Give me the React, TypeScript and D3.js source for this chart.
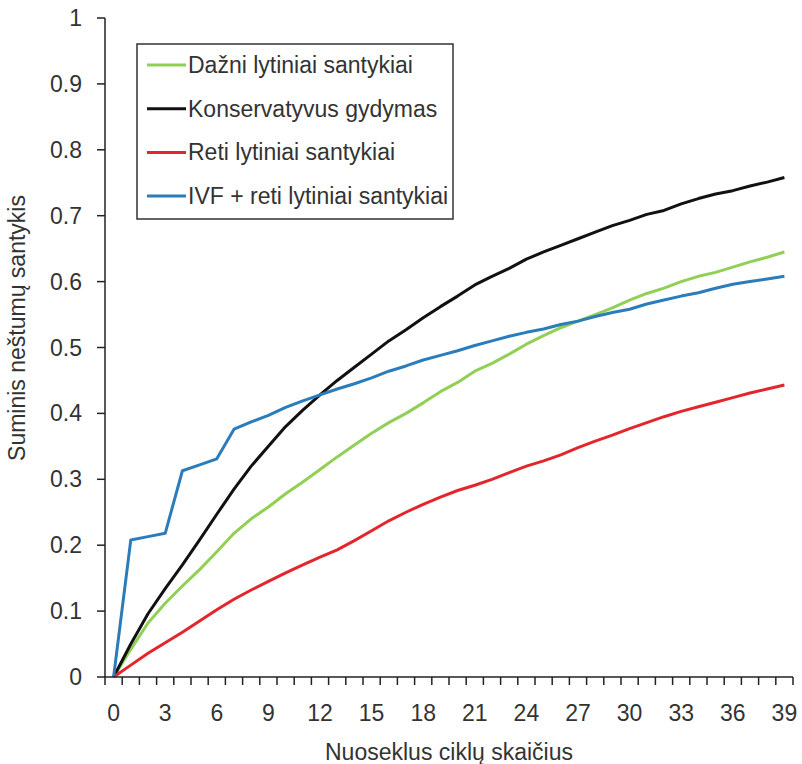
import { scaleBand, scaleLinear, line, range } from "d3";

const width = 802;
const height = 764;

const cycles = range(0, 40);
const xTickLabels = range(0, 40, 3);
const yTicks = [0, 0.1, 0.2, 0.3, 0.4, 0.5, 0.6, 0.7, 0.8, 0.9, 1];

const dazni = [
  0, 0.042, 0.082, 0.112, 0.138, 0.163, 0.19, 0.218, 0.24, 0.258, 0.278, 0.296, 0.315, 0.334,
  0.352, 0.37, 0.386, 0.4, 0.416, 0.433, 0.447, 0.464, 0.476, 0.49, 0.505, 0.518, 0.53, 0.54,
  0.55, 0.56, 0.572, 0.582, 0.59, 0.6, 0.608, 0.614, 0.622, 0.63, 0.637, 0.645,
];
const konservatyvus = [
  0, 0.05, 0.096, 0.134, 0.17, 0.208, 0.247, 0.285, 0.32, 0.35, 0.38, 0.405, 0.428, 0.45, 0.47,
  0.49, 0.51, 0.527, 0.545, 0.562, 0.578, 0.595, 0.608, 0.62, 0.634, 0.645, 0.655, 0.665, 0.675,
  0.685, 0.693, 0.702, 0.708, 0.718, 0.726, 0.733, 0.738, 0.745, 0.751, 0.758,
];
const reti = [
  0, 0.018, 0.036, 0.052, 0.068, 0.085, 0.102, 0.118, 0.132, 0.145, 0.158, 0.17, 0.182, 0.193,
  0.207, 0.222, 0.237, 0.25, 0.262, 0.273, 0.283, 0.291, 0.3, 0.31, 0.32, 0.328, 0.337, 0.348,
  0.358, 0.367, 0.377, 0.386, 0.395, 0.403, 0.41, 0.417, 0.424, 0.431, 0.437, 0.443,
];
const ivf = [
  0, 0.208, 0.213, 0.218, 0.313, 0.322, 0.331, 0.376, 0.387, 0.397, 0.409, 0.419, 0.428, 0.437,
  0.445, 0.454, 0.464, 0.472, 0.481, 0.488, 0.495, 0.503, 0.51, 0.517, 0.523, 0.528, 0.535, 0.54,
  0.547, 0.553, 0.558, 0.566, 0.572, 0.578, 0.583, 0.59, 0.596, 0.6, 0.604, 0.608,
];

const series = [
  { name: "Dažni lytiniai santykiai", color: "#92cf55", values: dazni },
  { name: "Konservatyvus gydymas", color: "#111111", values: konservatyvus },
  { name: "Reti lytiniai santykiai", color: "#e3262b", values: reti },
  { name: "IVF + reti lytiniai santykiai", color: "#2b7cba", values: ivf },
];

const font = "'Liberation Sans', Arial, sans-serif";
const textColor = "#333";
const fs = 23;

const App = () => {
  const xScale = scaleBand<number>().domain(cycles).range([105, 793]).padding(0);
  const yScale = scaleLinear().domain([0, 1]).range([677, 18]);
  const bw = xScale.bandwidth();
  const cx = (i: number) => (xScale(i) ?? 0) + bw / 2;

  const path = line<number>()
    .x((_, i) => cx(cycles[i]))
    .y((d) => yScale(d));

  const [x0, x1] = xScale.range();
  const [y0, y1] = yScale.range();

  return (
    <svg width={width} height={height} style={{ position: "absolute", left: 0, top: 0 }}>
      <rect width={width} height={height} fill="#fff" />

      {/* lines */}
      {series.map((s) => (
        <path
          key={s.name}
          d={path(s.values) ?? ""}
          fill="none"
          stroke={s.color}
          strokeWidth={3}
          strokeLinejoin="round"
        />
      ))}

      {/* y axis */}
      <line x1={x0} x2={x0} y1={y1} y2={y0} stroke="#222" strokeWidth={1.5} />
      {yTicks.map((t) => (
        <g key={t}>
          <line x1={x0 - 8} x2={x0} y1={yScale(t)} y2={yScale(t)} stroke="#222" strokeWidth={1.5} />
          <text
            x={82}
            y={yScale(t)}
            dy="0.35em"
            textAnchor="end"
            fontFamily={font}
            fontSize={fs}
            fill={textColor}
          >
            {t}
          </text>
        </g>
      ))}

      {/* x axis */}
      <line x1={x0} x2={x1} y1={y0} y2={y0} stroke="#222" strokeWidth={1.5} />
      {[...cycles, cycles.length].map((i) => {
        const xx = i < cycles.length ? xScale(i) ?? 0 : x1;
        return <line key={i} x1={xx} x2={xx} y1={y0} y2={y0 + 8} stroke="#222" strokeWidth={1.5} />;
      })}
      {xTickLabels.map((t) => (
        <text
          key={t}
          x={cx(t)}
          y={713}
          dy="0.35em"
          textAnchor="middle"
          fontFamily={font}
          fontSize={fs}
          fill={textColor}
        >
          {t}
        </text>
      ))}

      {/* axis titles */}
      <text x={449} y={760} textAnchor="middle" fontFamily={font} fontSize={fs} fill={textColor}>
        Nuoseklus ciklų skaičius
      </text>
      <text
        transform={`translate(25, 328) rotate(-90)`}
        textAnchor="middle"
        fontFamily={font}
        fontSize={fs}
        fill={textColor}
      >
        Suminis neštumų santykis
      </text>

      {/* legend */}
      <rect x={137} y={44} width={316} height={175} fill="#fff" stroke="#333" strokeWidth={1.5} />
      {series.map((s, i) => {
        const yy = 65 + i * 43.7;
        return (
          <g key={s.name}>
            <line x1={147} x2={186} y1={yy} y2={yy} stroke={s.color} strokeWidth={3} />
            <text x={188} y={yy} dy="0.35em" fontFamily={font} fontSize={fs} fill={textColor}>
              {s.name}
            </text>
          </g>
        );
      })}
    </svg>
  );
};

export default App;
